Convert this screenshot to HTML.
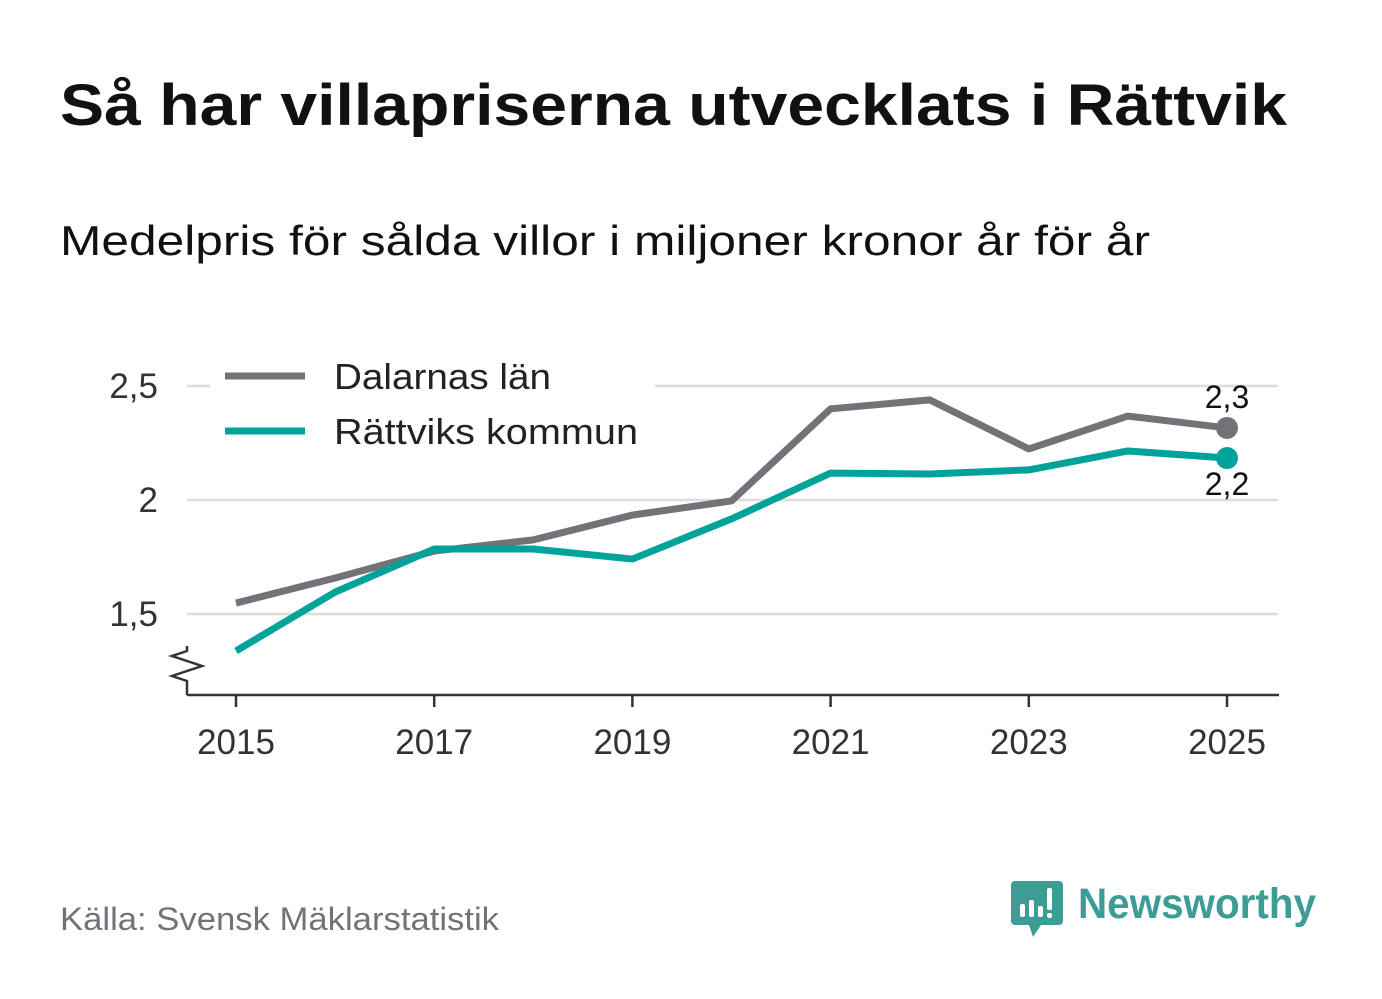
<!DOCTYPE html>
<html><head><meta charset="utf-8">
<style>
body{margin:0;background:#fff;}
svg{display:block;font-family:"Liberation Sans",sans-serif;}
</style></head>
<body>
<svg id="chart" width="1382" height="999" viewBox="0 0 1382 999">
<text x="60" y="125" font-size="58" font-weight="bold" fill="#111" textLength="1227" lengthAdjust="spacingAndGlyphs">Så har villapriserna utvecklats i Rättvik</text>
<text x="60" y="255" font-size="42" fill="#111" textLength="1090" lengthAdjust="spacingAndGlyphs">Medelpris för sålda villor i miljoner kronor år för år</text>
<g id="grid"></g>
<g id="yticks"></g>
<g id="xticks"></g>
<g id="series"></g>
<g>
<rect x="210" y="350" width="445" height="110" fill="#fff"/>
<line x1="225" y1="376" x2="305" y2="376" stroke="#737278" stroke-width="7"/>
<text x="334" y="389" font-size="36" fill="#222" textLength="217" lengthAdjust="spacingAndGlyphs">Dalarnas län</text>
<line x1="225" y1="431" x2="305" y2="431" stroke="#00a39a" stroke-width="7"/>
<text x="334" y="444" font-size="36" fill="#222" textLength="304" lengthAdjust="spacingAndGlyphs">Rättviks kommun</text>
</g>
<text x="60" y="930" font-size="32" fill="#737278" textLength="439" lengthAdjust="spacingAndGlyphs">Källa: Svensk Mäklarstatistik</text>
<g>
<path d="M1015 881 h44 a4 4 0 0 1 4 4 v36 a4 4 0 0 1 -4 4 h-18 l-8 12 l-4 -12 h-14 a4 4 0 0 1 -4 -4 v-36 a4 4 0 0 1 4 -4z" fill="#3d9d94"/>
<rect x="1020" y="904" width="5" height="13" rx="2" fill="#fff"/>
<rect x="1029" y="900" width="5" height="17" rx="2" fill="#fff"/>
<rect x="1038" y="906" width="5" height="11" rx="2" fill="#fff"/>
<rect x="1047" y="888" width="5" height="22" rx="2" fill="#fff"/>
<rect x="1047" y="913" width="5" height="5" rx="2" fill="#fff"/>
<text x="1078" y="918" font-size="43" font-weight="bold" fill="#3d9d94" textLength="238" lengthAdjust="spacingAndGlyphs">Newsworthy</text>
</g>
</svg>
<script>
const years=[2015,2016,2017,2018,2019,2020,2021,2022,2023,2024,2025];
const dalarna=[1.548,1.658,1.776,1.825,1.934,1.996,2.40,2.439,2.224,2.368,2.316];
const rattvik=[1.338,1.596,1.785,1.785,1.741,1.917,2.118,2.114,2.132,2.215,2.184];
const yTicks=[1.5,2,2.5];
const yTickLabels=["1,5","2","2,5"];
const xTicks=[2015,2017,2019,2021,2023,2025];
const endLabels=["2,3","2,2"];

const NS="http://www.w3.org/2000/svg";
const xs=v=>236+(v-2015)*(1227-236)/10;
const ys=v=>500-(v-2)*228;
function mk(tag,attrs,parent){const e=document.createElementNS(NS,tag);for(const k in attrs)e.setAttribute(k,attrs[k]);parent.appendChild(e);return e;}
const grid=document.getElementById('grid'),yt=document.getElementById('yticks'),xt=document.getElementById('xticks'),ser=document.getElementById('series');
yTicks.forEach((v,i)=>{
 const l=mk('line',{x1:187,x2:1278,y1:ys(v),y2:ys(v),stroke:'#ddd','stroke-width':2.5},grid);
 
 
 const t=mk('text',{x:158,y:ys(v)+12,'font-size':35,fill:'#333','text-anchor':'end'},yt);
 t.textContent=yTickLabels[i];
 
 
});
const ax=mk('line',{x1:187,x2:1279,y1:695,y2:695,stroke:'#333','stroke-width':2.5},xt);


const br=mk('polyline',{points:'187,695 187,681 172,676 202,666 172,656 187,651 187,646',fill:'none',stroke:'#333','stroke-width':2.5},xt);


xTicks.forEach(v=>{
 const tk=mk('line',{x1:xs(v),x2:xs(v),y1:695,y2:707,stroke:'#333','stroke-width':2.5},xt);
 
 
 const t=mk('text',{x:xs(v),y:754,'font-size':35,fill:'#333','text-anchor':'middle'},xt);
 t.textContent=v;
 
 
});
function line(vals,color,name){
 const p=mk('polyline',{points:vals.map((v,i)=>xs(years[i])+','+ys(v)).join(' '),fill:'none',stroke:color,'stroke-width':7,'stroke-linejoin':'round'},ser);
 
 
 const n=vals.length-1;
 const c=mk('circle',{cx:xs(years[n]),cy:ys(vals[n]),r:11,fill:color},ser);
 
 
}
line(dalarna,'#737278','line-dalarna');
line(rattvik,'#00a39a','line-rattvik');
const n=years.length-1;
const t1=mk('text',{x:xs(years[n]),y:ys(dalarna[n])-20,'font-size':32,fill:'#111','text-anchor':'middle'},ser);
t1.textContent=endLabels[0];


const t2=mk('text',{x:xs(years[n]),y:ys(rattvik[n])+37,'font-size':32,fill:'#111','text-anchor':'middle'},ser);
t2.textContent=endLabels[1];


</script>
</body></html>
